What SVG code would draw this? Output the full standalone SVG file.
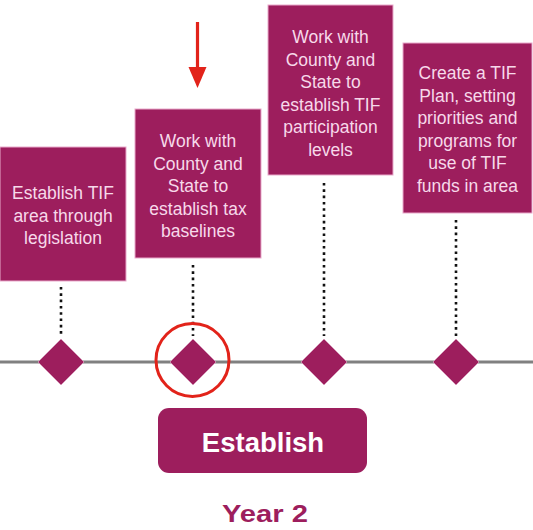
<svg xmlns="http://www.w3.org/2000/svg" width="533" height="530" viewBox="0 0 533 530">
<style>
.box{fill:#9d1e5d;stroke:#e9a9cb;stroke-width:1}
.bt{font-family:"Liberation Sans",Arial,sans-serif;font-size:17.5px;fill:#f7d9ea;text-anchor:middle}
.dots{stroke:#111;stroke-width:2.6;stroke-dasharray:2.6 3.7;fill:none}
.dia{fill:#9d1e5d;stroke:#d79abb;stroke-width:0.8}
</style>
<rect width="533" height="530" fill="#ffffff"/>
<g id="timeline">
<line x1="0" y1="362" x2="533" y2="362" stroke="#808080" stroke-width="3"/>
</g>
<g id="connectors">
<line class="dots" x1="61" y1="287" x2="61" y2="336"/>
<line class="dots" x1="193" y1="265" x2="193" y2="336"/>
<line class="dots" x1="324" y1="183" x2="324" y2="336"/>
<line class="dots" x1="456" y1="220" x2="456" y2="336"/>
<g id="red-arrow">
<line x1="197.5" y1="22" x2="197.5" y2="72" stroke="#e2231a" stroke-width="3.2"/>
<polygon points="188.5,67 206.5,67 197.5,88" fill="#e2231a"/>
</g>
</g>
<g id="node1">
<rect class="box" x="0" y="147" width="126" height="134"/>
<text class="bt"><tspan x="63" y="199">Establish TIF</tspan><tspan x="63" y="221.5">area through</tspan><tspan x="63" y="244">legislation</tspan></text>
</g>
<g id="node2">
<rect class="box" x="135" y="109" width="126" height="149"/>
<text class="bt"><tspan x="198" y="147">Work with</tspan><tspan x="198" y="169.5">County and</tspan><tspan x="198" y="192">State to</tspan><tspan x="198" y="214.5">establish tax</tspan><tspan x="198" y="237">baselines</tspan></text>
</g>
<g id="node3">
<rect class="box" x="268" y="5" width="125" height="170"/>
<text class="bt"><tspan x="330.5" y="43">Work with</tspan><tspan x="330.5" y="65.5">County and</tspan><tspan x="330.5" y="88">State to</tspan><tspan x="330.5" y="110.5">establish TIF</tspan><tspan x="330.5" y="133">participation</tspan><tspan x="330.5" y="155.5">levels</tspan></text>
</g>
<g id="node4">
<rect class="box" x="403" y="43" width="129" height="170"/>
<text class="bt"><tspan x="467.5" y="79">Create a TIF</tspan><tspan x="467.5" y="101.5">Plan, setting</tspan><tspan x="467.5" y="124">priorities and</tspan><tspan x="467.5" y="146.5">programs for</tspan><tspan x="467.5" y="169">use of TIF</tspan><tspan x="467.5" y="191.5">funds in area</tspan></text>
</g>
<g id="diamond1"><polygon class="dia" points="61,339 84,362 61,385 38,362"/></g>
<g id="diamond2"><polygon class="dia" points="193,339 216,362 193,385 170,362"/></g>
<g id="diamond3"><polygon class="dia" points="324,339 347,362 324,385 301,362"/></g>
<g id="diamond4"><polygon class="dia" points="456,339 479,362 456,385 433,362"/></g>
<g id="highlight-circle">
<circle cx="192.5" cy="360" r="36.5" fill="none" stroke="#e2231a" stroke-width="3"/>
</g>
<g id="phase">
<rect x="158" y="408" width="209" height="65" rx="11" fill="#9d1e5d"/>
<text x="263" y="452" font-family="'Liberation Sans',Arial,sans-serif" font-size="27.5" font-weight="bold" fill="#ffffff" text-anchor="middle">Establish</text>
</g>
<g id="year">
<text x="222" y="522" textLength="86" lengthAdjust="spacingAndGlyphs" font-family="'Liberation Sans',Arial,sans-serif" font-size="23" font-weight="bold" fill="#9d1e5d">Year 2</text>
</g>
</svg>
